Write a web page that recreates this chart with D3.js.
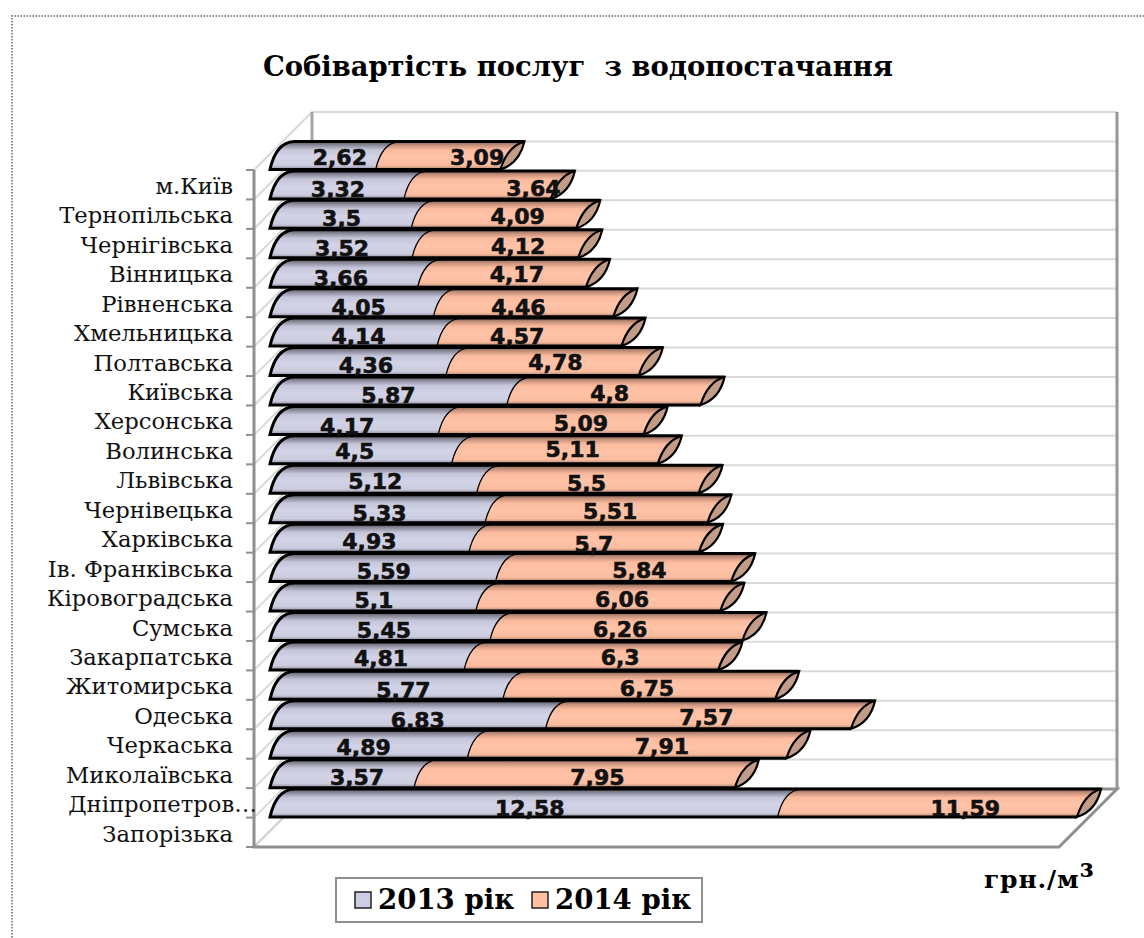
<!DOCTYPE html>
<html>
<head>
<meta charset="utf-8">
<script src="https://cdn.jsdelivr.net/npm/d3@7"></script>
<style>
  body { margin: 0; background: #fff; }
  svg { display: block; }
  .catlabel text { font-family: "DejaVu Serif"; font-size: 22.7px; fill: #111; }
  .vallabel { font-family: "DejaVu Sans"; font-weight: bold; font-size: 22px; fill: #111; stroke: #111; stroke-width: 0.6; text-anchor: middle; }
</style>
</head>
<body>
<div id="plot"></div>
<script>
const regions = ["м.Київ", "Тернопільська", "Чернігівська", "Вінницька", "Рівненська", "Хмельницька",
    "Полтавська", "Київська", "Херсонська", "Волинська", "Львівська", "Чернівецька", "Харківська",
    "Ів. Франківська", "Кіровоградська", "Сумська", "Закарпатська", "Житомирська", "Одеська",
    "Черкаська", "Миколаївська", "Дніпропетров…", "Запорізька"];
const cost2013 = [2.62, 3.32, 3.5, 3.52, 3.66, 4.05, 4.14, 4.36, 5.87, 4.17, 4.5, 5.12, 5.33, 4.93,
    5.59, 5.1, 5.45, 4.81, 5.77, 6.83, 4.89, 3.57, 12.58];
const cost2014 = [3.09, 3.64, 4.09, 4.12, 4.17, 4.46, 4.57, 4.78, 4.8, 5.09, 5.11, 5.5, 5.51, 5.7,
    5.84, 6.06, 6.26, 6.3, 6.75, 7.57, 7.91, 7.95, 11.59];
const seriesNames = ["2013 рік", "2014 рік"];

// the data labels were dragged by hand in the original, so each one has its own nudge
const nudge2013 = [[5,2],[-11,4],[-11,4],[-11,4],[-15,5],[-5,4],[-7,4],[-4,4],[-12,4],[-19,6],[-18,1],[-10,2],
    [-10,4],[-12,3],[-11,3],[-11,3],[-8,4],[2,2],[5,5],[-2,5],[-17,3],[3,3],[-6,5]];
const nudge2014 = [[27,2],[44,3],[12,2],[11,2],[3,1],[-17,4],[-24,4],[1,1],[-6,2],[28,3],[6,-1],[-13,4],
    [2,2],[-2,6],[14,2],[12,2],[-8,3],[17,1],[-4,3],[-4,2],[23,2],[11,3],[26,5]];

const width = 1144, height = 938;
const depth = 58;        // 3d offset of the back wall
const skew = 24;         // slant of the bar ends
const barH = 28;

const svg = d3.select("#plot").append("svg")
    .attr("width", width)
    .attr("height", height);

const defs = svg.append("defs");
function gradient(id, stops) {
    defs.append("linearGradient").attr("id", id)
        .attr("x1", 0).attr("y1", 0).attr("x2", 0).attr("y2", 1)
        .selectAll("stop").data(stops).join("stop")
        .attr("offset", d => d[0]).attr("stop-color", d => d[1]);
}
gradient("blue", [[0, "#55555f"], [0.14, "#8e8e9e"], [0.3, "#c6c6da"], [0.55, "#d3d3e7"], [0.85, "#ccccdf"], [1, "#8c8c9c"]]);
gradient("orange", [[0, "#806256"], [0.14, "#c8937c"], [0.3, "#fbbb9f"], [0.55, "#ffc3a8"], [0.85, "#fbbc9f"], [1, "#a98370"]]);

// outer dotted frame
svg.append("path")
    .attr("d", `M${width},16H12V${height}`)
    .attr("fill", "none")
    .attr("stroke", "#8c8c8c")
    .attr("stroke-width", 2)
    .attr("stroke-dasharray", "1.5,1.5");

// title
svg.append("text")
    .attr("x", 578).attr("y", 76)
    .attr("text-anchor", "middle")
    .style("font-family", "DejaVu Serif").style("font-weight", "bold").style("font-size", "27.4px")
    .style("white-space", "pre")
    .text("Собівартість послуг  з водопостачання");

// scales: axis stops at 20, the last bar is cut there
const x = d3.scaleLinear().domain([0, 20]).range([270, 1077]).clamp(true);
const y = d3.scaleBand().domain(regions).range([170, 847]);
const wallLeft = 254, wallRight = 1059;
const rowEdges = regions.map(d => y(d)).concat([y.range()[1]]);

// walls and gridlines
const walls = svg.append("g").attr("fill", "none");
walls.selectAll(".grid").data(rowEdges.slice(0, -1)).join("path")
    .attr("class", "grid")
    .attr("d", d => `M${wallLeft},${d}l${depth},${-depth}H${wallRight + depth}`)
    .attr("stroke", "#d9d9d9").attr("stroke-width", 2);
walls.append("path")
    .attr("d", `M${wallLeft + depth},${rowEdges[0] - depth}V${rowEdges[23] - depth}`)
    .attr("stroke", "#a6a6a6").attr("stroke-width", 3);
walls.append("path")
    .attr("d", `M${wallRight + depth},${rowEdges[0] - depth}V${rowEdges[23] - depth}`)
    .attr("stroke", "#969696").attr("stroke-width", 3);
walls.append("path")
    .attr("d", `M${wallLeft},${rowEdges[23]}l${depth},${-depth}`)
    .attr("stroke", "#cfcfcf").attr("stroke-width", 2);
walls.append("path")
    .attr("d", `M${wallLeft + depth},${rowEdges[23] - depth}H${wallRight + depth}l${-depth},${depth}H${wallLeft}V${rowEdges[0]}`)
    .attr("stroke", "#8f8f8f").attr("stroke-width", 3);
walls.selectAll(".tick-mark").data(rowEdges).join("line")
    .attr("class", "tick-mark")
    .attr("x1", wallLeft - 8).attr("x2", wallLeft)
    .attr("y1", d => d).attr("y2", d => d)
    .attr("stroke", "#8f8f8f").attr("stroke-width", 2);

// category axis, the long truncated name runs over the axis line as in the original
const yAxis = d3.axisLeft(y).tickSize(0).tickPadding(0);
svg.append("g")
    .attr("class", "catlabel")
    .attr("transform", "translate(233,2)")
    .call(yAxis)
    .call(g => g.select(".domain").remove())
    .call(g => g.selectAll(".tick text").filter(d => d.endsWith("…")).attr("x", 24));

// slanted cylinder pieces
const leftEdge = (px, yb) => `Q${px + 6},${yb - barH + 1} ${px + skew},${yb - barH}`;
const segment = (a, b, yb) => `M${a},${yb}${leftEdge(a, yb)}L${b + skew},${yb - barH}L${b},${yb}Z`;
const cap = (px, yb) => `M${px},${yb}Q${px + 7},${yb - barH + 5} ${px + skew},${yb - barH}Q${px + skew - 5},${yb - 6} ${px},${yb}Z`;

const rows = svg.selectAll(".row").data(regions).join("g").attr("class", "row");
rows.each(function(d, i) {
    const g = d3.select(this);
    const yb = y(d) - 0.5;
    const x0 = x(0), x1 = x(cost2013[i]), x2 = x(cost2013[i] + cost2014[i]);
    g.append("path").attr("d", segment(x0, x1, yb)).attr("fill", "url(#blue)");
    g.append("path").attr("d", segment(x1, x2, yb)).attr("fill", "url(#orange)");
    g.append("path").attr("d", `M${x1},${yb}${leftEdge(x1, yb)}`)
        .attr("fill", "none").attr("stroke", "#000").attr("stroke-width", 1.3);
    g.append("path")
        .attr("d", `M${x2},${yb}H${x0}${leftEdge(x0, yb)}H${x2 + skew}`)
        .attr("fill", "none").attr("stroke", "#000").attr("stroke-width", 3);
    g.append("path").attr("d", cap(x2, yb))
        .attr("fill", "#c39c88").attr("stroke", "#000").attr("stroke-width", 2.2);
});

// value labels on top of everything
const fmt = v => String(v).replace(".", ",");
regions.forEach(function(d, i) {
    const yc = y(d) - 0.5 - barH / 2;
    const x1 = x(cost2013[i]), x2 = x(cost2013[i] + cost2014[i]);
    svg.append("text").attr("class", "vallabel")
        .attr("x", (x(0) + x1) / 2 + skew / 2 + nudge2013[i][0])
        .attr("y", yc + nudge2013[i][1])
        .attr("dy", "0.36em")
        .text(fmt(cost2013[i]));
    svg.append("text").attr("class", "vallabel")
        .attr("x", (x1 + x2) / 2 + skew / 2 + nudge2014[i][0])
        .attr("y", yc + nudge2014[i][1])
        .attr("dy", "0.36em")
        .text(fmt(cost2014[i]));
});

// unit
const unit = svg.append("text")
    .attr("x", 984).attr("y", 888)
    .style("font-family", "DejaVu Serif").style("font-weight", "bold").style("font-size", "25px")
    .style("letter-spacing", "0.8px");
unit.append("tspan").text("грн./м");
unit.append("tspan").style("font-size", "33px").text("³");

// legend
const legend = svg.append("g");
legend.append("rect")
    .attr("x", 336).attr("y", 878).attr("width", 366).attr("height", 44)
    .attr("fill", "#fff").attr("stroke", "#8f8f8f").attr("stroke-width", 2);
const legendFill = ["#cdcde3", "#ffbfa3"];
const legendX = d3.scalePoint().domain(seriesNames).range([355, 532]);
seriesNames.forEach(function(name, i) {
    legend.append("rect")
        .attr("x", legendX(name)).attr("y", 892).attr("width", 16).attr("height", 16)
        .attr("fill", legendFill[i]).attr("stroke", "#222").attr("stroke-width", 1.5);
    legend.append("text")
        .attr("x", legendX(name) + 23).attr("y", 909)
        .style("font-family", "DejaVu Serif").style("font-weight", "bold").style("font-size", "27.6px")
        .text(name);
});
</script>
</body>
</html>
